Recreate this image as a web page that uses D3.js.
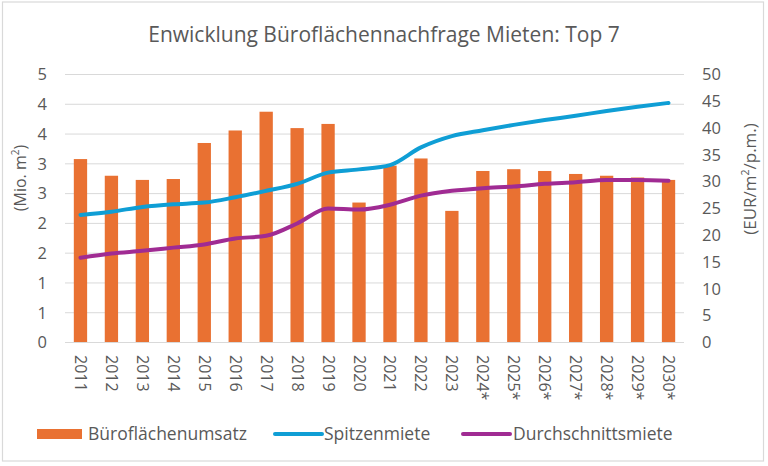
<!DOCTYPE html>
<html><head><meta charset="utf-8">
<script src="https://cdn.jsdelivr.net/npm/d3@7"></script>
<style>body{margin:0;background:#fff}svg{display:block}text{font-family:"Open Sans","Noto Sans",sans-serif;fill:#595959}</style>
</head><body><svg id="c" width="768" height="466"></svg>
<script>
const years = ["2011","2012","2013","2014","2015","2016","2017","2018","2019","2020","2021","2022","2023","2024*","2025*","2026*","2027*","2028*","2029*","2030*"];
const umsatz = [3.08,2.80,2.73,2.745,3.35,3.56,3.875,3.60,3.67,2.35,2.97,3.09,2.21,2.88,2.91,2.88,2.83,2.80,2.77,2.73];
const spitzenmiete = [23.8,24.4,25.3,25.8,26.1,27.1,28.3,29.6,31.7,32.3,33.1,36.4,38.5,39.6,40.6,41.5,42.3,43.2,44.0,44.7];
const durchschnittsmiete = [15.8,16.6,17.1,17.7,18.3,19.4,19.9,22.2,25.0,24.8,25.7,27.4,28.3,28.8,29.1,29.6,29.9,30.3,30.3,30.2];
const leftTicks = [0,0.5,1,1.5,2,2.5,3,3.5,4,4.5];
const rightTicks = [0,5,10,15,20,25,30,35,40,45,50];
const title = "Enwicklung Büroflächennachfrage Mieten: Top 7";
const seriesNames = ["Büroflächenumsatz","Spitzenmiete","Durchschnittsmiete"];
const colors = {bar:"#E97132", blue:"#0F9ED5", purple:"#A02B93"};

const svg = d3.select("#c");
const L = 65, R = 684, T = 74.5, B = 342.5;

svg.append("rect").attr("x",2.5).attr("y",2).attr("width",761).attr("height",459)
  .attr("fill","#fff").attr("stroke","#d9d9d9").attr("stroke-width",1.2);

const x = d3.scaleBand().domain(years).range([L,R]).paddingInner(0.57).paddingOuter(0.285);
const yL = d3.scaleLinear().domain([0,4.5]).range([B,T]);
const yR = d3.scaleLinear().domain([0,50]).range([B,T]);

// gridlines
svg.append("g").selectAll("line").data(leftTicks).join("line")
  .attr("x1",L).attr("x2",R).attr("y1",d=>yL(d)).attr("y2",d=>yL(d))
  .attr("stroke","#d9d9d9").attr("stroke-width",1);

// left axis (labels rounded to whole numbers, as in the original)
const axL = svg.append("g").attr("transform",`translate(${L},0)`)
  .call(d3.axisLeft(yL).tickValues(leftTicks).tickFormat(d=>String(Math.round(d))).tickSize(0).tickPadding(18));
axL.select(".domain").remove();
axL.selectAll("text").attr("font-size",16.5).style("fill","#595959");

// right axis
const axR = svg.append("g").attr("transform",`translate(${R},0)`)
  .call(d3.axisRight(yR).tickValues(rightTicks).tickSize(0).tickPadding(18));
axR.select(".domain").remove();
axR.selectAll("text").attr("font-size",16.5).style("fill","#595959");

// bars
svg.append("g").selectAll("rect").data(umsatz).join("rect")
  .attr("x",(d,i)=>x(years[i])).attr("width",x.bandwidth())
  .attr("y",d=>yL(d)).attr("height",d=>B-yL(d)).attr("fill",colors.bar);

// baseline
svg.append("line").attr("x1",L).attr("x2",R).attr("y1",B).attr("y2",B).attr("stroke","#d9d9d9").attr("stroke-width",1);

// lines
const cx = i => x(years[i]) + x.bandwidth()/2;
const line = d3.line().x((d,i)=>cx(i)).y(d=>yR(d)).curve(d3.curveMonotoneX);
svg.append("path").datum(spitzenmiete).attr("d",line).attr("fill","none")
  .attr("stroke",colors.blue).attr("stroke-width",4).attr("stroke-linecap","round");
svg.append("path").datum(durchschnittsmiete).attr("d",line).attr("fill","none")
  .attr("stroke",colors.purple).attr("stroke-width",4).attr("stroke-linecap","round");

// x labels
svg.append("g").selectAll("text").data(years).join("text")
  .attr("transform",(d,i)=>`translate(${cx(i)-5.5},355) rotate(90)`)
  .attr("font-size",16).attr("text-anchor","start").text(d=>d);

// title
svg.append("text").attr("x",384).attr("y",42).attr("text-anchor","middle").attr("font-size",21).text(title);

// axis titles
const lt = svg.append("text").attr("transform","translate(26,178) rotate(-90)").attr("text-anchor","middle").attr("font-size",16);
lt.append("tspan").text("(Mio. m");
lt.append("tspan").attr("font-size",10).attr("dy",-7).text("2");
lt.append("tspan").attr("dy",7).text(")");
const rt = svg.append("text").attr("transform","translate(756,179) rotate(-90)").attr("text-anchor","middle").attr("font-size",17);
rt.append("tspan").text("(EUR/m");
rt.append("tspan").attr("font-size",10.5).attr("dy",-7).text("2");
rt.append("tspan").attr("dy",7).text("/p.m.)");

// legend
const lg = svg.append("g");
lg.append("rect").attr("x",37).attr("y",429).attr("width",45).attr("height",10).attr("fill",colors.bar);
lg.append("text").attr("x",88).attr("y",440).attr("font-size",17.5).text(seriesNames[0]);
lg.append("line").attr("x1",275).attr("x2",322).attr("y1",434).attr("y2",434).attr("stroke",colors.blue).attr("stroke-width",4).attr("stroke-linecap","round");
lg.append("text").attr("x",324).attr("y",440).attr("font-size",17.5).text(seriesNames[1]);
lg.append("line").attr("x1",463).attr("x2",510).attr("y1",434).attr("y2",434).attr("stroke",colors.purple).attr("stroke-width",4).attr("stroke-linecap","round");
lg.append("text").attr("x",513).attr("y",440).attr("font-size",17.5).text(seriesNames[2]);
</script></body></html>
